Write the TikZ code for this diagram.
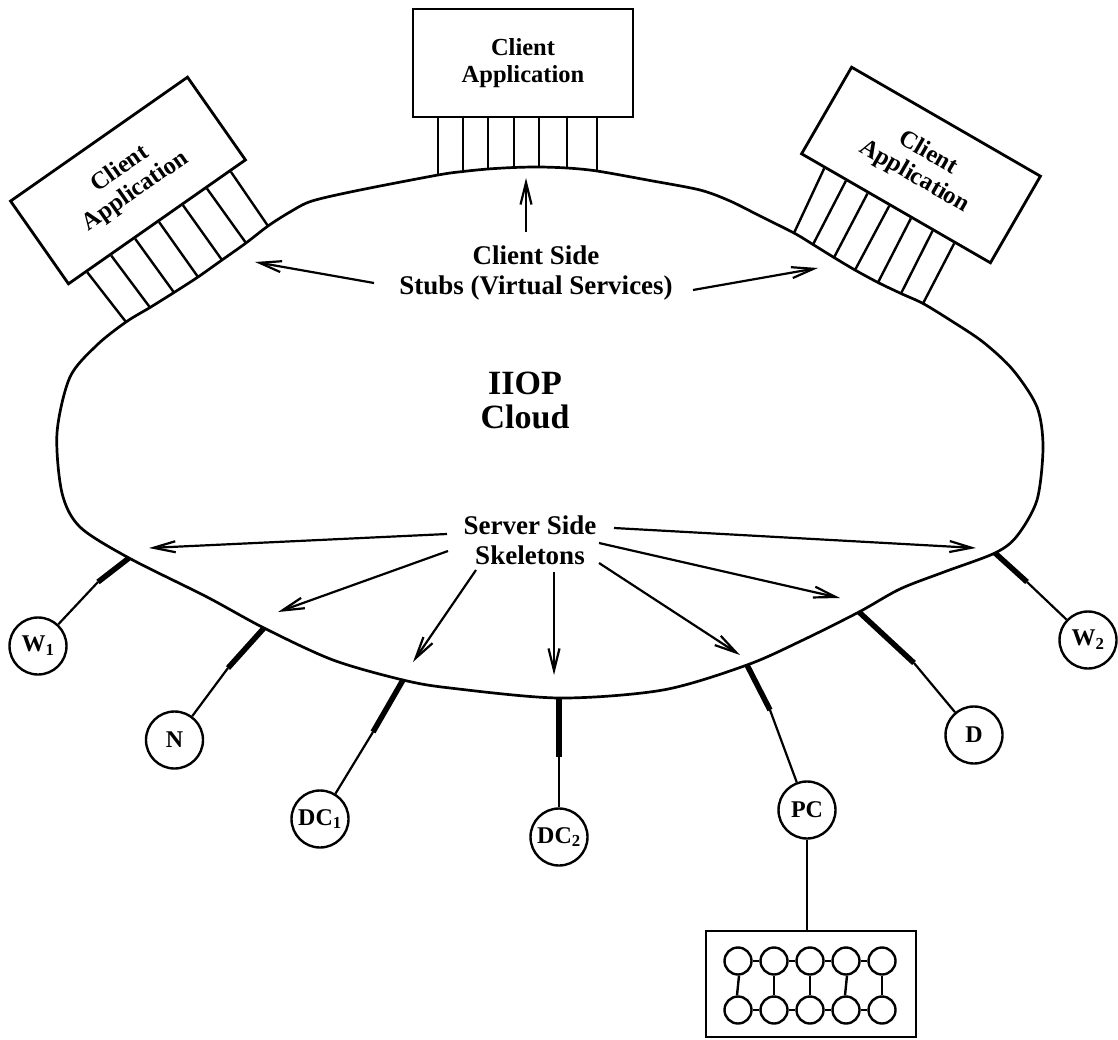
\documentclass[tikz,border=0pt]{standalone}
\usepackage{fontspec}
\setmainfont{Liberation Serif}
\usetikzlibrary{arrows.meta,calc}
\begin{document}
\begin{tikzpicture}[x=1pt,y=-1pt,
  appbox/.style={draw, line width=2.8pt, align=center, inner sep=0pt, font=\fontsize{24.5}{27}\selectfont\bfseries},
  stubline/.style={line width=2.4pt},
  cloudline/.style={line width=2.7pt},
  lbl/.style={align=center, font=\fontsize{27}{30}\selectfont\bfseries},
  biglbl/.style={align=center, font=\fontsize{34}{34}\selectfont\bfseries},
  arr/.style={line width=2.2pt, -{Straight Barb[length=22pt,width=11pt]}},
  dev/.style={draw, circle, line width=2.4pt, minimum size=57pt, inner sep=0pt, font=\fontsize{24}{24}\selectfont\bfseries},
  heavystub/.style={line width=5.5pt},
  thinstub/.style={line width=2.2pt},
  pe/.style={draw, circle, line width=2.4pt, minimum size=27pt, inner sep=0pt},
]
\useasboundingbox (0,0) rectangle (1118,1040);

% client application boxes
\node[appbox, rotate=35, minimum width=216pt, minimum height=101pt] (cl) at (128,180.5) {Client\\Application};
\node[appbox, minimum width=220pt, minimum height=108pt] (ct) at (523,63) {Client\\Application};
\node[appbox, rotate=-30, minimum width=218pt, minimum height=100pt] (cr) at (921,165) {Client\\Application};

% stubs
\foreach \t/\x/\y in {0.107/126/322, 0.2405/150/307.5, 0.374/174/292.5, 0.5075/198/277, 0.641/222/260, 0.7745/246/243, 0.908/268/226}
  \draw[stubline] ($(cl.south west)!\t!(cl.south east)$) -- (\x,\y);
\foreach \x/\y in {438/175, 463/171.5, 488/169, 514/167.5, 539/167, 567/168, 597/171}
  \draw[stubline] (\x,0 |- ct.south) -- (\x,\y);
\foreach \t/\x/\y in {0.128/794/233, 0.2413/813/244.5, 0.3546/834/257.5, 0.4679/855/270, 0.5812/878/282.5, 0.6945/901/293.5, 0.8078/923/303.5}
  \draw[stubline] ($(cr.south west)!\t!(cr.south east)$) -- (\x,\y);

% cloud
\draw[cloudline] plot[smooth cycle] coordinates {
  (126,322) (150,307.5) (174,292.5) (198,277) (222,260) (246,243) (268,226)
  (290,212) (312,201) (360,190)
  (438,175) (463,171.5) (488,169) (514,167.5) (539,167) (567,168) (597,171)
  (650,180.5) (700,190) (730,201) (760,216)
  (794,233) (813,244.5) (834,257.5) (855,270) (878,282.5) (901,293.5) (923,303.5)
  (950,320) (983,342) (1013,370) (1037,407) (1043,447) (1037,500) (1017,536) (995,553)
  (944,572) (900,589) (859,612) (803,640) (747,665) (663,690) (559,698)
  (450,688) (403,680) (333,660) (264,628) (207,597) (129,558) (80,527) (62,493)
  (57,433) (70,377) (97,345)};

% labels
\node[lbl] (cs) at (536,273) {Client Side\\Stubs (Virtual Services)};
\node[biglbl] (iiop) at (525,400) {IIOP\\Cloud};
\node[lbl] (ss) at (530,540) {Server Side\\Skeletons};

% client side arrows
\coordinate (ca0) at (526,232); \coordinate (cb0) at (526,178);
\coordinate (ca1) at (374,283); \coordinate (cb1) at (255,262);
\coordinate (ca2) at (693,290); \coordinate (cb2) at (818,268);
\foreach \i in {0,1,2} \draw[arr] (ca\i) -- (cb\i);

% server side arrows
\coordinate (sa1) at (447,534); \coordinate (sb1) at (149,548);
\coordinate (sa2) at (448,551); \coordinate (sb2) at (278,612);
\coordinate (sa3) at (476,570); \coordinate (sb3) at (413,662);
\coordinate (sa4) at (554,572); \coordinate (sb4) at (554,675);
\coordinate (sa5) at (599,563); \coordinate (sb5) at (740,655);
\coordinate (sa6) at (599,543); \coordinate (sb6) at (840,598);
\coordinate (sa7) at (614,528); \coordinate (sb7) at (976,548);
\foreach \i in {1,...,7} \draw[arr] (sa\i) -- (sb\i);

% devices
\node[dev] (w1) at (38,646) {W\textsubscript{1}};
\node[dev] (n) at (174.5,740) {N};
\node[dev] (dc1) at (320,819) {DC\textsubscript{1}};
\node[dev] (dc2) at (559,837) {DC\textsubscript{2}};
\node[dev] (pc) at (807,810) {PC};
\node[dev] (d) at (974,735) {D};
\node[dev] (w2) at (1088,640) {W\textsubscript{2}};

% skeleton attachments
\foreach \nm/\jx/\jy/\kx/\ky in {w1/129/558/98/582, n/264/628/228/668, dc1/403/680/373/732, dc2/559/698/559/757, pc/747/665/770/710, d/859/612/914/663, w2/995/553/1027/582} {
  \coordinate (j\nm) at (\jx,\jy);
  \coordinate (k\nm) at (\kx,\ky);
  \draw[heavystub] (j\nm) -- (k\nm);
  \draw[thinstub] (k\nm) -- (\nm);
}

% network box
\node[draw, line width=2.8pt, minimum width=210pt, minimum height=106pt, inner sep=0pt] (net) at (811,984) {};
\draw[thinstub] (pc) -- (pc.south |- net.north);
\foreach \i/\x in {1/738,2/774,3/810,4/846,5/882} {
  \node[pe] (t\i) at (\x,961) {};
  \node[pe] (b\i) at (\x,1010) {};
}
\foreach \i/\j in {1/2,2/3,3/4,4/5} {
  \draw[line width=1.4pt] (t\i) -- (t\j);
  \draw[line width=2.8pt] (b\i) -- (b\j);
}
\draw[line width=2.4pt] ([xshift=1pt]t1.south) -- ([xshift=-1pt]b1.north);
\draw[line width=2.4pt] (t2) -- (b2);
\draw[line width=2.4pt] (t3) -- (b3);
\draw[line width=2.4pt] ([xshift=1pt]t4.south) -- ([xshift=-1pt]b4.north);
\draw[line width=2.4pt] (t5) -- (b5);
\end{tikzpicture}
\end{document}
